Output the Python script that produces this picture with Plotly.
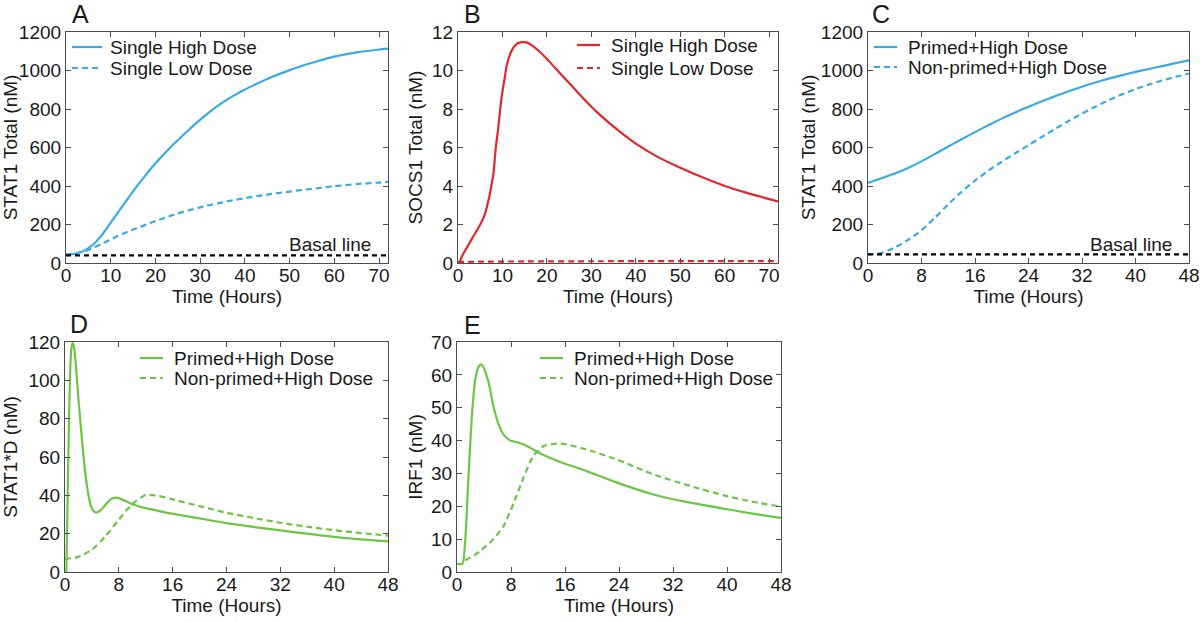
import plotly.graph_objects as go

# ---------------- data ----------------
# Panel A: STAT1 total, single dose (0-72 h)
a_t = [0, 2, 4, 6, 8, 10, 12, 14, 16, 18, 20, 22, 24, 26, 28, 30, 32, 34, 36, 38, 40, 42, 44, 46, 48, 50, 53, 56, 60, 65, 70, 72]
a_high = [43, 48, 63, 95, 145, 210, 275, 340, 403, 462, 518, 568, 616, 660, 703, 745, 783, 818, 849, 876, 901, 924, 946, 966, 985, 1002, 1026, 1047, 1072, 1094, 1109, 1114]
a_low = [43, 50, 60, 78, 100, 122, 145, 165, 183, 200, 218, 234, 250, 264, 277, 289, 300, 310, 320, 329, 337, 345, 352, 359, 365, 371, 380, 388, 399, 410, 418, 421]
a_basal_t = [0, 72]
a_basal = [40, 40]

# Panel B: SOCS1 total
b_t = [0.3, 1, 2, 3, 4, 5, 6, 7, 7.5, 8, 8.5, 9, 9.5, 10, 10.5, 11, 12, 13, 14, 15, 16, 18, 20, 22, 24, 26, 28, 30, 32, 35, 40, 45, 50, 55, 60, 65, 70, 72]
b_high = [0, 0.4, 0.8, 1.2, 1.6, 2.0, 2.5, 3.4, 4.0, 4.7, 6.0, 6.9, 8.0, 8.9, 9.6, 10.3, 11.0, 11.34, 11.46, 11.47, 11.4, 11.05, 10.6, 10.1, 9.6, 9.1, 8.6, 8.12, 7.68, 7.08, 6.2, 5.5, 4.95, 4.45, 4.0, 3.64, 3.32, 3.2]
b_low_t = [0, 5, 15, 30, 50, 72]
b_low = [0.05, 0.07, 0.08, 0.09, 0.1, 0.1]

# Panel C: STAT1 total, primed vs non-primed (0-48 h)
c_t = [0, 2, 4, 6, 8, 10, 12, 14, 16, 18, 20, 22, 24, 26, 28, 30, 32, 34, 36, 38, 40, 42, 44, 46, 48]
c_primed = [416, 440, 465, 494, 528, 566, 605, 643, 680, 716, 750, 782, 812, 840, 867, 892, 916, 938, 958, 976, 993, 1008, 1023, 1038, 1053]
c_nonprimed = [44, 52, 80, 120, 170, 235, 305, 370, 428, 480, 526, 570, 612, 655, 697, 738, 776, 812, 846, 876, 903, 927, 948, 967, 984]
c_basal_t = [0, 48]
c_basal = [45, 45]

# Panel D: STAT1*D
d_t_primed = [0.2, 0.4, 0.6, 0.8, 1.0, 1.15, 1.4, 1.7, 2.0, 2.3, 2.6, 3.0, 3.4, 3.8, 4.2, 4.6, 5.0, 5.5, 6.0, 6.5, 7.0, 7.6, 8.2, 9, 10, 11, 12, 14, 16, 20, 24, 28, 32, 36, 40, 44, 48]
d_primed = [0, 40, 80, 108, 118, 119.5, 116, 104, 90, 78, 66, 52, 42, 35, 32, 31, 31.5, 33, 35, 37, 38.3, 38.8, 38.3, 37, 35.3, 34.2, 33.3, 31.8, 30.4, 28, 25.5, 23.5, 21.7, 20, 18.3, 17, 16]
d_t_np = [0, 2, 4, 6, 8, 10, 12, 14, 16, 20, 24, 28, 32, 36, 40, 44, 48]
d_nonprimed = [6.8, 7.9, 11.7, 18.6, 27.3, 35.5, 40.2, 39.6, 37.9, 34.4, 30.9, 28.2, 25.7, 23.6, 21.8, 20.3, 19]

# Panel E: IRF1
e_t_primed = [0, 0.8, 1.2, 1.7, 2.2, 2.7, 3.2, 3.55, 4.0, 4.7, 5.4, 6.2, 6.9, 7.9, 8.9, 9.9, 11.3, 12.8, 15.3, 19.2, 23.7, 29.1, 34.5, 40, 44, 48]
e_primed = [2.5, 2.5, 9, 29, 47.4, 58.5, 62.5, 63.2, 62, 57.5, 50.4, 44.8, 41.8, 40, 39.5, 38.8, 37.3, 35.6, 33.5, 30.7, 27.2, 23.6, 21.1, 19.1, 17.7, 16.5]
e_t_np = [1.2, 2.5, 3.5, 5.4, 6.9, 8.4, 9.9, 11.3, 12.8, 14.8, 16.3, 19.2, 23.7, 29.1, 34.5, 40, 44, 48]
e_nonprimed = [3.6, 5.0, 6.5, 10, 14, 21, 29, 35.3, 38.3, 39.1, 38.8, 37.3, 34.2, 29.7, 26.2, 23.1, 21.3, 19.9]

# legend labels
leg_single = ["Single High Dose", "Single Low Dose"]
leg_primed = ["Primed+High Dose", "Non-primed+High Dose"]

BLUE = "#3AA9E6"
RED = "#E3262B"
GREEN = "#6CC646"
AXC = "#4d4d4d"
TXT = "#1a1a1a"
FONT = "Liberation Sans, Arial, sans-serif"
FS = 19
DASH = "6px,4px"
BDASH = "5px,4px"
LW = 2.2

W, H = 1200, 622

fig = go.Figure()

def add(x, y, color, dash, name, xa, ya):
    fig.add_trace(go.Scatter(
        x=x, y=y, mode="lines", name=name, showlegend=False,
        line=dict(color=color, width=LW, dash=dash, shape="spline", smoothing=0.6),
        xaxis=xa, yaxis=ya))

add(a_t, a_high, BLUE, "solid", leg_single[0], "x", "y")
add(a_t, a_low, BLUE, DASH, leg_single[1], "x", "y")
add(a_basal_t, a_basal, "black", BDASH, "Basal line", "x", "y")
add(b_t, b_high, RED, "solid", leg_single[0], "x2", "y2")
add(b_low_t, b_low, RED, DASH, leg_single[1], "x2", "y2")
add(c_t, c_primed, BLUE, "solid", leg_primed[0], "x3", "y3")
add(c_t, c_nonprimed, BLUE, DASH, leg_primed[1], "x3", "y3")
add(c_basal_t, c_basal, "black", BDASH, "Basal line", "x3", "y3")
add(d_t_primed, d_primed, GREEN, "solid", leg_primed[0], "x4", "y4")
add(d_t_np, d_nonprimed, GREEN, DASH, leg_primed[1], "x4", "y4")
add(e_t_primed, e_primed, GREEN, "solid", leg_primed[0], "x5", "y5")
add(e_t_np, e_nonprimed, GREEN, DASH, leg_primed[1], "x5", "y5")

def pxd(a, b):
    return [a / W, b / W]
def pyd(top, bot):
    return [1 - bot / H, 1 - top / H]

panels = [
    ((66, 388), (32, 263), [0, 72], 10, [0, 1200], 200, "STAT1 Total (nM)", 4),
    ((458, 778), (32, 263), [0, 72], 10, [0, 12], 2, "SOCS1 Total (nM)", 4),
    ((868, 1189), (32, 263), [0, 48], 8, [0, 1200], 200, "STAT1 Total (nM)", 0),
    ((65, 388), (342, 572), [0, 48], 8, [0, 120], 20, "STAT1*D (nM)", 10),
    ((457, 781), (342, 572), [0, 48], 8, [0, 70], 10, "IRF1 (nM)", 3),
]

layout = dict(
    width=W, height=H,
    margin=dict(l=0, r=0, t=0, b=0),
    paper_bgcolor="white", plot_bgcolor="white",
    font=dict(family=FONT, size=FS, color=TXT),
    showlegend=False,
)
for i, (xd, yd, xr, xdt, yr, ydt, yt, ystand) in enumerate(panels, start=1):
    sx = "" if i == 1 else str(i)
    common = dict(showline=True, linecolor=AXC, linewidth=1.2, mirror="ticks",
                  ticks="inside", ticklen=5, tickcolor=AXC, tickwidth=1.2,
                  showgrid=False, zeroline=False, automargin=False,
                  tickfont=dict(family=FONT, size=FS, color=TXT))
    layout["xaxis" + sx] = dict(domain=pxd(*xd), range=xr, dtick=xdt, tick0=0,
                                anchor="y" + sx, ticklabelstandoff=-5,
                                title=dict(text="Time (Hours)", standoff=2,
                                           font=dict(family=FONT, size=FS, color=TXT)),
                                **common)
    layout["yaxis" + sx] = dict(domain=pyd(*yd), range=yr, dtick=ydt, tick0=0,
                                anchor="x" + sx,
                                title=dict(text=yt, standoff=ystand,
                                           font=dict(family=FONT, size=FS, color=TXT)),
                                **common)
fig.update_layout(**layout)

# manual legends: (line x0, line x1, text x, row1 y, row2 y, color, labels)
legends = [
    (72, 102, 108, 47, 68, BLUE, leg_single),
    (577, 600, 609, 45, 68, RED, leg_single),
    (874, 897, 906, 47, 67, BLUE, leg_primed),
    (140, 163, 172, 358, 378, GREEN, leg_primed),
    (540, 563, 572, 358, 378, GREEN, leg_primed),
]
for x0, x1, tx, y1, y2, col, labels in legends:
    for yy, dash, lab in ((y1, "solid", labels[0]), (y2, DASH, labels[1])):
        fig.add_shape(type="line", xref="paper", yref="paper",
                      x0=x0 / W, x1=x1 / W, y0=1 - yy / H, y1=1 - yy / H,
                      line=dict(color=col, width=LW, dash=dash))
        fig.add_annotation(text=lab, x=tx / W, y=1 - yy / H, xref="paper", yref="paper",
                           xanchor="left", yanchor="middle", showarrow=False,
                           font=dict(family=FONT, size=FS, color=TXT))

letters = [("A", 70, 14), ("B", 462, 14), ("C", 870, 14), ("D", 68, 324), ("E", 462, 325)]
for t, x, y in letters:
    fig.add_annotation(text=t, x=x / W, y=1 - y / H, xref="paper", yref="paper",
                       xanchor="left", yanchor="middle", showarrow=False,
                       font=dict(family=FONT, size=25, color=TXT))

fig.add_annotation(text="Basal line", x=68.6, y=98, xref="x", yref="y",
                   xanchor="right", yanchor="middle", showarrow=False,
                   font=dict(family=FONT, size=FS, color=TXT))
fig.add_annotation(text="Basal line", x=45.8, y=98, xref="x3", yref="y3",
                   xanchor="right", yanchor="middle", showarrow=False,
                   font=dict(family=FONT, size=FS, color=TXT))

fig.write_html("out.html", config={"displayModeBar": False},
               post_script="document.body.style.margin='0';")
